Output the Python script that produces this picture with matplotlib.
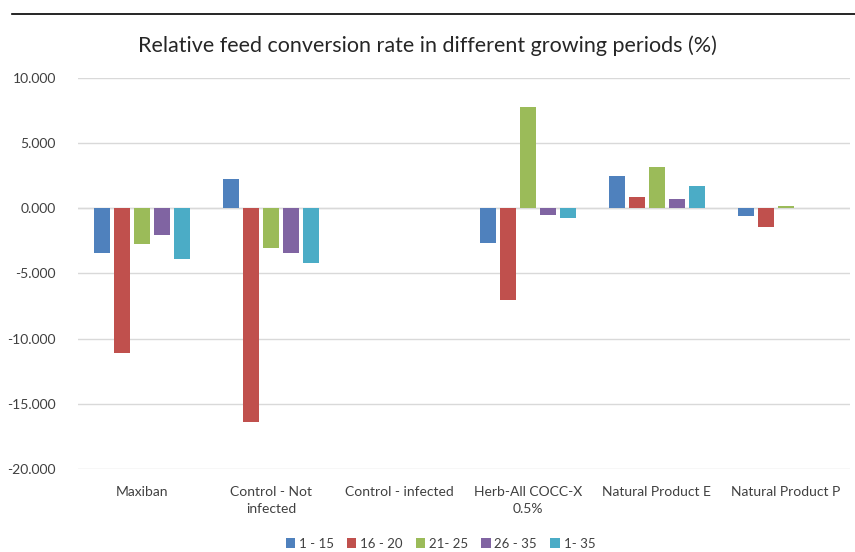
import numpy as np
import matplotlib.pyplot as plt
from matplotlib.lines import Line2D
from matplotlib.ticker import FuncFormatter

plt.rcParams['font.family'] = ['Lato', 'DejaVu Sans']

categories = ["Maxiban", "Control - Not\ninfected", "Control - infected",
              "Herb-All COCC-X\n0.5%", "Natural Product E", "Natural Product P"]
periods = ["1 - 15", "16 - 20", "21- 25", "26 - 35", "1- 35"]
p1_15  = [-3.41,  2.27, 0.0, -2.63, 2.49, -0.60]
p16_20 = [-11.13, -16.41, 0.0, -7.01, 0.90, -1.46]
p21_25 = [-2.73, -3.04, 0.0, 7.78, 3.19, 0.21]
p26_35 = [-2.01, -3.43, 0.0, -0.55, 0.69, 0.05]
p1_35  = [-3.90, -4.23, 0.0, -0.77, 1.69, 0.03]
colors = ["#4F81BD", "#C0504D", "#9BBB59", "#8064A2", "#4BACC6"]

series = [p1_15, p16_20, p21_25, p26_35, p1_35]

fig = plt.figure(figsize=(8.55, 5.52), dpi=100)
ax = fig.add_axes([0.0912, 0.1504, 0.9028, 0.7083])

x = np.arange(len(categories))
step = 0.155
width = 0.124
for i, vals in enumerate(series):
    ax.bar(x + (i - 2) * step, vals, width, color=colors[i], label=periods[i],
           linewidth=0, zorder=3)

ax.set_xlim(-0.5, len(categories) - 0.5)
ax.set_ylim(-20, 10)
ax.set_yticks(np.arange(-20, 10.1, 5))
ax.yaxis.set_major_formatter(FuncFormatter(lambda v, p: f"{v:.3f}"))
ax.grid(axis="y", color="#D9D9D9", linewidth=1, zorder=0)
ax.axhline(0, color="#D9D9D9", linewidth=1, zorder=1)
for s in ax.spines.values():
    s.set_visible(False)
ax.set_xticks(x)
ax.set_xticklabels(categories, fontsize=10, color="#404040", linespacing=1.5)
ax.tick_params(axis="both", length=0, labelsize=10, colors="#404040")
ax.tick_params(axis="x", pad=12)
ax.tick_params(axis="y", pad=16)

fig.text(0.5, 0.918, "Relative feed conversion rate in different growing periods (%)",
         ha="center", va="center", fontsize=15.5, color="#262626")

fig.legend(loc="center", bbox_to_anchor=(0.515, 0.015), ncol=5, frameon=False,
           fontsize=9.5, handlelength=0.7, handleheight=0.7, handletextpad=0.3,
           columnspacing=1.0, labelcolor="#404040")

fig.add_artist(Line2D([12 / 855, 1.0], [1 - 14 / 552, 1 - 14 / 552],
                      color="black", linewidth=1.2, transform=fig.transFigure))

fig.savefig("out.png", dpi=100)
